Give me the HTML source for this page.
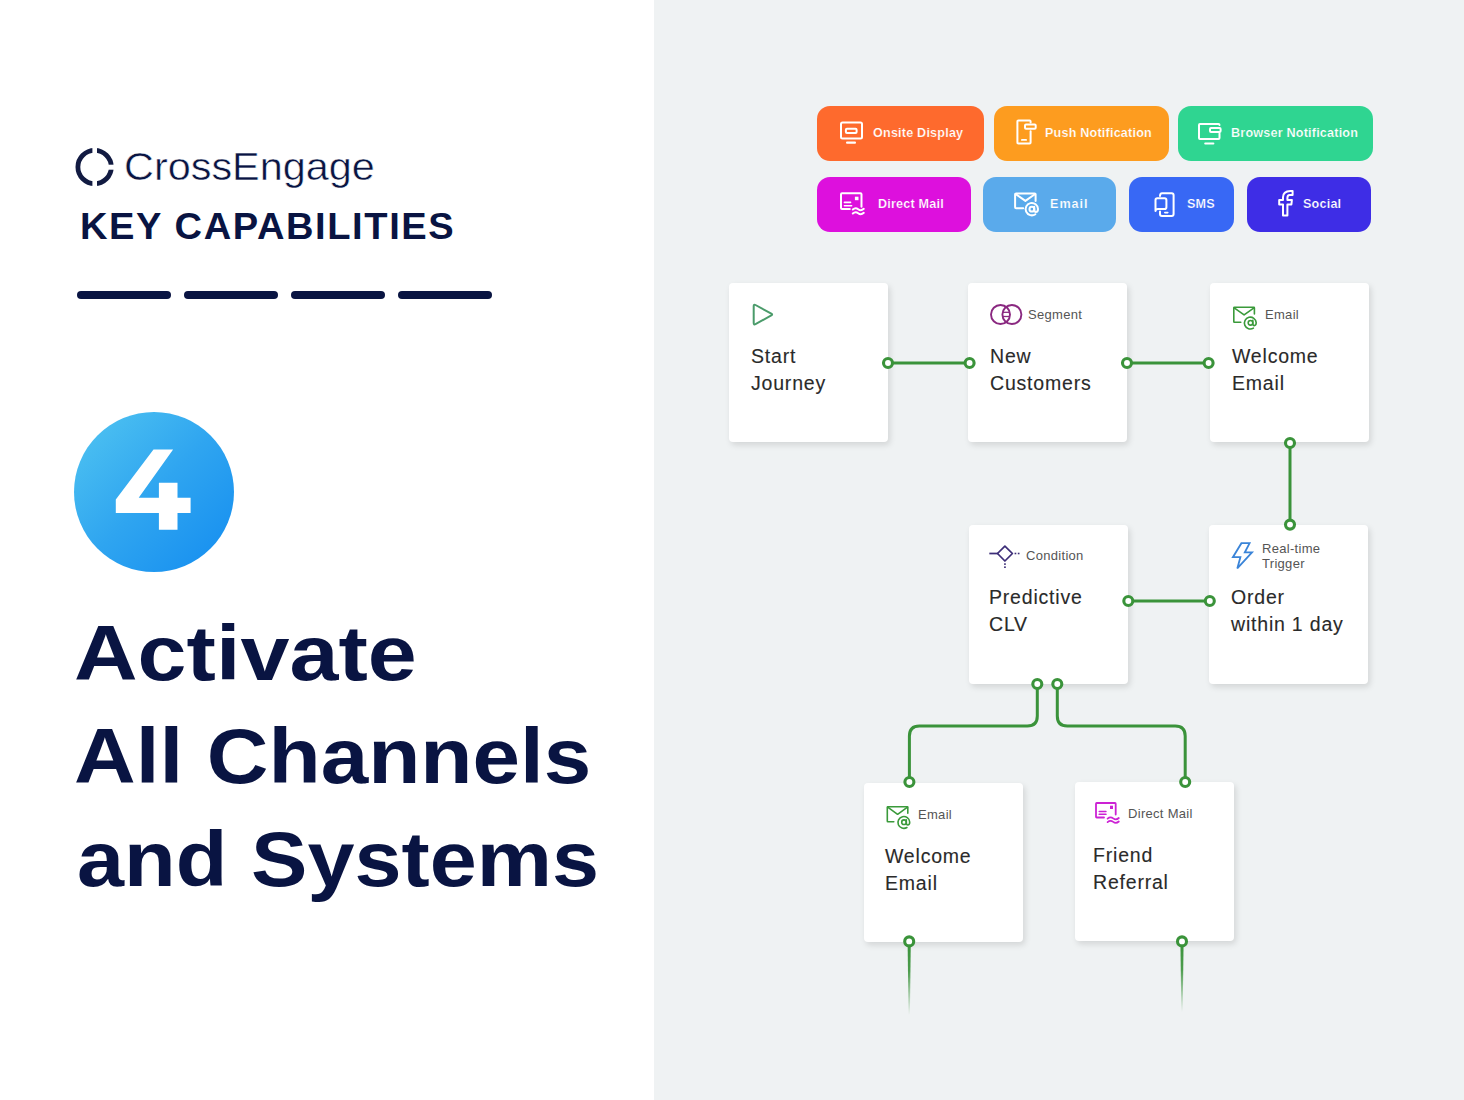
<!DOCTYPE html>
<html><head><meta charset="utf-8">
<style>
*{margin:0;padding:0;box-sizing:border-box}
html,body{width:1464px;height:1100px;overflow:hidden;background:#fff}
body{position:relative;font-family:"Liberation Sans",sans-serif}
.abs{position:absolute}
#left{position:absolute;left:0;top:0;width:654px;height:1100px;background:#fff}
#right{position:absolute;left:654px;top:0;width:810px;height:1100px;background:#eff2f3}
.navy{color:#091442}
.dash{position:absolute;top:291px;height:8px;width:94px;border-radius:4px;background:#091442}
.h1{position:absolute;left:76px;font-weight:bold;font-size:77px;line-height:77px;color:#091442;white-space:nowrap;transform-origin:0 0}
.btn{position:absolute;border-radius:13px;color:#fff;font-weight:bold;font-size:12.6px;white-space:nowrap;letter-spacing:0.2px}
.btn span{position:absolute;top:-0.5px;line-height:55px;-webkit-text-stroke:0.2px var(--bg)}
.card{position:absolute;width:159px;height:159px;background:#fff;border-radius:4px;box-shadow:2px 3px 6px rgba(0,0,0,0.12)}
.t{position:absolute;font-size:19.5px;line-height:27.4px;color:#2a2a2a;white-space:nowrap;letter-spacing:0.8px;-webkit-text-stroke:0.12px #2a2a2a}
.lb{position:absolute;font-size:13px;line-height:15px;color:#555;white-space:nowrap;letter-spacing:0.3px}
svg.ov{position:absolute;left:0;top:0}
</style></head>
<body>
<div id="left">
  <svg class="abs" style="left:0;top:0" width="654" height="600">
    <circle cx="94.6" cy="167" r="16.7" fill="none" stroke="#121b42" stroke-width="4.8"/>
    <rect x="92.4" y="144" width="4.6" height="10" fill="#fff"/>
    <rect x="92.4" y="180" width="4.6" height="10" fill="#fff"/>
    <rect x="106" y="164.7" width="12" height="5" fill="#fff"/>
    <defs><linearGradient id="g4" x1="0" y1="0" x2="1" y2="1">
      <stop offset="0" stop-color="#52c6f1"/><stop offset="0.5" stop-color="#2fa5f0"/><stop offset="1" stop-color="#138cf0"/>
    </linearGradient></defs>
    <circle cx="154" cy="492" r="80" fill="url(#g4)"/>
    <polygon fill="#fff" points="153.5,449.6 173.1,449.6 138.7,497.7 158.9,497.7 158.9,482.7 177.5,482.7 177.5,497.7 190.6,497.7 190.6,512.9 177.5,512.9 177.5,529.8 158.9,529.8 158.9,512.9 115.8,512.9 115.8,499.5"/>
  </svg>
  <div class="abs navy" style="left:123.5px;top:147px;font-size:38.7px;line-height:40px;white-space:nowrap;transform:scaleX(1.07);transform-origin:0 0;-webkit-text-stroke:0.5px #fff;paint-order:normal">CrossEngage</div>
  <div class="abs navy" style="left:79.5px;top:209px;font-size:36px;line-height:36px;font-weight:bold;white-space:nowrap;letter-spacing:1.5px;transform:scaleX(1.058);transform-origin:0 0">KEY CAPABILITIES</div>
  <div class="dash" style="left:77px"></div>
  <div class="dash" style="left:184px"></div>
  <div class="dash" style="left:291px"></div>
  <div class="dash" style="left:398px"></div>
  <div class="h1" style="top:615px;left:74px;transform:scaleX(1.144)">Activate</div>
  <div class="h1" style="top:718px;left:74px;transform:scaleX(1.109)">All Channels</div>
  <div class="h1" style="top:821px;left:76.7px;transform:scaleX(1.099)">and Systems</div>
</div>
<div id="right"></div>

<!-- buttons row 1 -->
<div class="btn" style="left:817px;top:106px;width:167px;height:55px;background:#fe6a2d;--bg:#fe6a2d"><span style="left:56px">Onsite Display</span></div>
<div class="btn" style="left:994px;top:106px;width:175px;height:55px;background:#fd9c1f;--bg:#fd9c1f"><span style="left:51px">Push Notification</span></div>
<div class="btn" style="left:1178px;top:106px;width:195px;height:55px;background:#2fd591;--bg:#2fd591"><span style="left:53px">Browser Notification</span></div>
<!-- buttons row 2 -->
<div class="btn" style="left:817px;top:177px;width:154px;height:55px;background:#dd10dd;--bg:#dd10dd"><span style="left:61px">Direct Mail</span></div>
<div class="btn" style="left:983px;top:177px;width:133px;height:55px;background:#5aaaeb;--bg:#5aaaeb"><span style="left:67px;letter-spacing:1px">Email</span></div>
<div class="btn" style="left:1129px;top:177px;width:105px;height:55px;background:#3868f5;--bg:#3868f5"><span style="left:58px">SMS</span></div>
<div class="btn" style="left:1247px;top:177px;width:124px;height:55px;background:#3e2de6;--bg:#3e2de6"><span style="left:56px">Social</span></div>

<!-- cards -->
<div class="card" style="left:729px;top:283px"></div>
<div class="card" style="left:968px;top:283px"></div>
<div class="card" style="left:1210px;top:283px"></div>
<div class="card" style="left:969px;top:525px"></div>
<div class="card" style="left:1209px;top:525px"></div>
<div class="card" style="left:864px;top:783px"></div>
<div class="card" style="left:1075px;top:782px"></div>

<!-- card texts -->
<div class="t" style="left:751px;top:342.5px">Start<br>Journey</div>
<div class="t" style="left:990px;top:342.5px">New<br>Customers</div>
<div class="t" style="left:1232px;top:342.5px">Welcome<br>Email</div>
<div class="t" style="left:989px;top:584px">Predictive<br>CLV</div>
<div class="t" style="left:1231px;top:584px">Order<br>within 1 day</div>
<div class="t" style="left:885px;top:842.5px">Welcome<br>Email</div>
<div class="t" style="left:1093px;top:842px">Friend<br>Referral</div>

<div class="lb" style="left:1028px;top:307px">Segment</div>
<div class="lb" style="left:1265px;top:307px">Email</div>
<div class="lb" style="left:1026px;top:548px">Condition</div>
<div class="lb" style="left:1262px;top:541px;line-height:15px">Real-time<br>Trigger</div>
<div class="lb" style="left:918px;top:807px">Email</div>
<div class="lb" style="left:1128px;top:806px">Direct Mail</div>

<svg class="ov" width="1464" height="1100" viewBox="0 0 1464 1100">
  <defs>
    <linearGradient id="fade" x1="0" y1="0" x2="0" y2="1">
      <stop offset="0" stop-color="#3a933a" stop-opacity="1"/>
      <stop offset="0.4" stop-color="#3a933a" stop-opacity="0.9"/>
      <stop offset="1" stop-color="#3a933a" stop-opacity="0"/>
    </linearGradient>
  </defs>
  <!-- button icons -->
  <g fill="none" stroke="#fff" stroke-width="2" stroke-linejoin="round" stroke-linecap="round">
    <!-- onsite -->
    <rect x="841" y="122.6" width="21" height="16" rx="1.5"/>
    <rect x="845.9" y="128.8" width="10.7" height="4.2" rx="1"/>
    <!-- push -->
    <path d="M1030.6 122.4 V121.6 Q1030.6 120.6 1029.6 120.6 H1018.4 Q1017.4 120.6 1017.4 121.6 V142.4 Q1017.4 143.4 1018.4 143.4 H1029.6 Q1030.6 143.4 1030.6 142.4 V131.3"/>
    <rect x="1025" y="124.6" width="10.7" height="4.2" rx="1"/>
    <!-- browser -->
    <path d="M1219.5 125 V124.9 Q1219.5 123.9 1218.5 123.9 H1200 Q1199 123.9 1199 124.9 V138 Q1199 139 1200 139 H1218.5 Q1219.5 139 1219.5 138 V133.5"/>
    <rect x="1210" y="128" width="10.6" height="4" rx="1"/>
    <!-- direct mail -->
    <path d="M849.8 209 H842 Q841 209 841 208 V194.2 Q841 193.2 842 193.2 H860.5 Q861.5 193.2 861.5 194.2 V206.7"/>
    <path d="M852.8 209.5 Q855.5 207 858.2 209.2 T863.8 208.8"/>
    <path d="M852.8 213.5 Q855.5 211 858.2 213.2 T863.8 212.8"/>
    <!-- email -->
    <path d="M1023.2 208.3 H1016.1 Q1015.1 208.3 1015.1 207.3 V194.5 Q1015.1 193.5 1016.1 193.5 H1034.6 Q1035.6 193.5 1035.6 194.5 V200.9"/>
    <path d="M1015.6 194 L1025.4 200.9 L1035.2 194"/>
    <path d="M1035.4 214.2 A6.2 6.2 0 1 1 1038 209 Q1038 212 1035.9 212 Q1034.2 212 1034.2 209.6 V206.8"/>
    <circle cx="1031.9" cy="209.2" r="2.4"/>
    <!-- sms -->
    <path d="M1160 196 Q1160 193.2 1162 193.2 H1171.6 Q1173.6 193.2 1173.6 195.2 V214 Q1173.6 216 1171.6 216 H1162 Q1160 216 1160 214 V211.5"/>
    <path d="M1155.5 211 V200 Q1155.5 198.2 1157.3 198.2 H1164.6 Q1166.4 198.2 1166.4 200 V207.2 Q1166.4 209 1164.6 209 H1158 Q1155.5 209 1155.5 211 Z"/>
    <!-- social -->
    <path d="M1283 215.4 V204.4 H1279.2 V200 H1283 V197.3 Q1283 191.1 1290.4 190.9 H1292.6 V195.1 H1289.7 Q1287.4 195.3 1287.4 198 V200 H1291.9 L1291.4 204.4 H1287.4 V215.4 Z"/>
  </g>
  <g fill="#fff">
    <rect x="846" y="141.5" width="10" height="2.3" rx="1"/>
    <rect x="1021" y="139" width="6" height="1.8" rx="0.9"/>
    <rect x="1204.2" y="142.4" width="10.2" height="2" rx="1"/>
    <rect x="854.9" y="196.7" width="3.6" height="3.5"/>
    <rect x="843.6" y="201.6" width="7.7" height="1.6" rx="0.8"/>
    <rect x="843.6" y="204.9" width="8.8" height="1.6" rx="0.8"/>
    <rect x="1164" y="211.8" width="4.6" height="1.6" rx="0.8"/>
  </g>

  <!-- card icons -->
  <path d="M753.7 306 Q753.7 304 755.5 305 L771.3 313.6 Q773 314.5 771.3 315.4 L755.5 324.1 Q753.7 325 753.7 323 Z" fill="none" stroke="#4a9b6a" stroke-width="2" stroke-linejoin="round"/>
  <g fill="none" stroke="#8a2880" stroke-width="1.9">
    <circle cx="1000.5" cy="314.5" r="9.5"/>
    <circle cx="1011.9" cy="314.5" r="9.5"/>
    <line x1="1002.8" y1="312.3" x2="1009.6" y2="312.3" stroke-width="1.3"/>
    <line x1="1002.8" y1="316.5" x2="1009.6" y2="316.5" stroke-width="1.3"/>
  </g>
  <!-- email green card3 -->
  <g fill="none" stroke="#3a9a3a" stroke-width="1.6" transform="translate(0,0.6)" stroke-linejoin="round" stroke-linecap="round">
    <path d="M1240.8 321.7 H1234.3 Q1233.8 321.7 1233.8 321 V307.3 Q1233.8 306.7 1234.5 306.7 H1253.9 Q1254.4 306.7 1254.4 307.3 V313.3"/>
    <path d="M1234.2 307.2 L1244.1 314.3 L1254 307.2"/>
    <path d="M1253.4 327.5 A5.9 5.9 0 1 1 1256.2 322 Q1256.2 325 1254.3 325 Q1252.8 325 1252.8 322.6 V319.8"/>
    <circle cx="1250.5" cy="322.2" r="2.3"/>
  </g>
  <!-- email green card6 -->
  <g fill="none" stroke="#3a9a3a" stroke-width="1.6" stroke-linejoin="round" stroke-linecap="round">
    <path d="M893.8 821.7 H887.8 Q887.3 821.7 887.3 821 V807.3 Q887.3 806.7 888 806.7 H907.3 Q907.8 806.7 907.8 807.3 V813.3"/>
    <path d="M887.7 807.2 L897.6 814.3 L907.5 807.2"/>
    <path d="M906.9 827.5 A5.9 5.9 0 1 1 909.7 822 Q909.7 825 907.8 825 Q906.3 825 906.3 822.6 V819.8"/>
    <circle cx="904" cy="822.2" r="2.3"/>
  </g>
  <!-- condition -->
  <g fill="none" stroke="#3d2e78" stroke-width="1.75" stroke-linejoin="round">
    <path d="M997.5 553.5 L1004.9 546.1 L1012.4 553.5 L1004.9 561 Z"/>
    <line x1="990.2" y1="553.5" x2="997.5" y2="553.5" stroke-linecap="square"/>
  </g>
  <g fill="#3d2e78">
    <rect x="1014.6" y="552.7" width="1.7" height="1.6"/>
    <rect x="1017.8" y="552.7" width="1.7" height="1.6"/>
    <rect x="1004.1" y="563.3" width="1.7" height="1.6"/>
    <rect x="1004.1" y="566.4" width="1.7" height="1.6"/>
  </g>
  <!-- lightning -->
  <path d="M1241.4 543.2 H1249.6 L1244.8 552.4 H1252 L1237.3 568.4 L1240.4 557.2 H1232.9 Z" fill="none" stroke="#3a84d8" stroke-width="1.8" stroke-linejoin="miter"/>
  <!-- direct mail magenta -->
  <g fill="none" stroke="#cc22d4" stroke-width="1.8" stroke-linejoin="round" stroke-linecap="round">
    <path d="M1104 817.5 H1096.7 Q1096 817.5 1096 816.8 V803.7 Q1096 803 1096.7 803 H1115 Q1115.7 803 1115.7 803.7 V814.5"/>
    <path d="M1107.6 818.6 Q1110.4 816.3 1113.2 818.4 T1118.8 818"/>
    <path d="M1107.6 822.1 Q1110.4 819.8 1113.2 821.9 T1118.8 821.5"/>
  </g>
  <g fill="#cc22d4">
    <rect x="1110" y="805.7" width="3" height="3.3"/>
    <rect x="1098.5" y="810.7" width="8.2" height="1.5" rx="0.7"/>
    <rect x="1098.5" y="813.6" width="8.2" height="1.5" rx="0.7"/>
  </g>

  <!-- connectors -->
  <g fill="none" stroke="#3a933a" stroke-width="3">
    <line x1="888" y1="363" x2="968" y2="363"/>
    <line x1="1127" y1="363" x2="1209" y2="363"/>
    <line x1="1290" y1="443" x2="1290" y2="525"/>
    <line x1="1128" y1="601" x2="1210" y2="601"/>
    <path d="M1037.3 684 V716 Q1037.3 726 1027.3 726 H919.4 Q909.4 726 909.4 736 V782"/>
    <path d="M1057.3 684 V716 Q1057.3 726 1067.3 726 H1175.2 Q1185.2 726 1185.2 736 V782"/>
  </g>
  <polygon points="907.6,941 910.8,941 909.9,1015 908.5,1015" fill="url(#fade)"/>
  <polygon points="1180.4,941 1183.6,941 1182.7,1012 1181.3,1012" fill="url(#fade)"/>
  <g fill="#fff" stroke="#3a933a" stroke-width="3.1">
    <circle cx="888" cy="363" r="4.5"/>
    <circle cx="969.6" cy="363" r="4.5"/>
    <circle cx="1127" cy="363" r="4.5"/>
    <circle cx="1208.6" cy="363" r="4.5"/>
    <circle cx="1290" cy="443" r="4.5"/>
    <circle cx="1290" cy="524.6" r="4.5"/>
    <circle cx="1128.3" cy="601" r="4.5"/>
    <circle cx="1209.8" cy="601" r="4.5"/>
    <circle cx="1037.3" cy="684" r="4.5"/>
    <circle cx="1057.3" cy="684" r="4.5"/>
    <circle cx="909.4" cy="782" r="4.5"/>
    <circle cx="1185.2" cy="782" r="4.5"/>
    <circle cx="909.2" cy="941.4" r="4.5"/>
    <circle cx="1182" cy="941.4" r="4.5"/>
  </g>
</svg>
</body></html>
